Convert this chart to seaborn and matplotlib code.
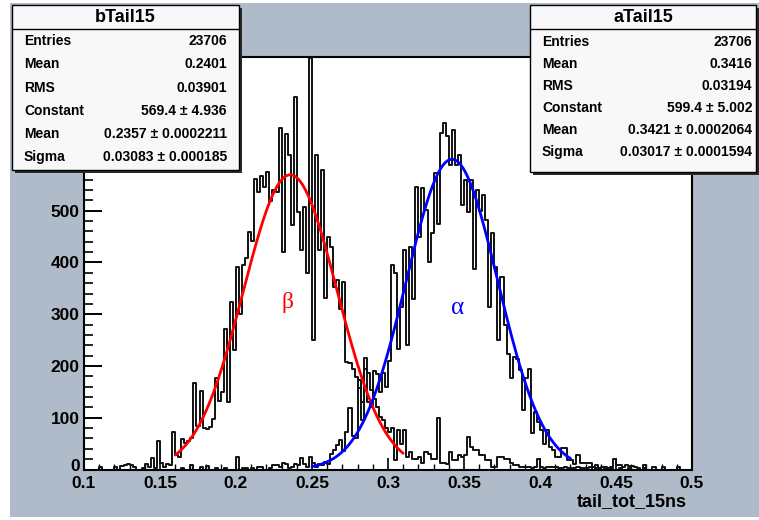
import numpy as np
import pandas as pd
import matplotlib
matplotlib.use("Agg")
import matplotlib.pyplot as plt
import seaborn as sns
from matplotlib.patches import Rectangle
from matplotlib.lines import Line2D
from matplotlib.transforms import ScaledTranslation
from matplotlib.ticker import MultipleLocator, FixedLocator

# ---------------- data ----------------
bin_lo, bin_hi, n_bins = 0.1, 0.5, 200

# bTail15 bin contents (bin width 0.002, from 0.1 to 0.5)
beta_counts = [
    0, 0, 0, 0, 0, 5, 0, 0, 0, 0,
    4, 0, 7, 8, 10, 8, 5, 0, 0, 3,
    10, 5, 23, 3, 55, 12, 5, 10, 8, 73,
    28, 25, 58, 52, 55, 60, 168, 85, 152, 80,
    79, 83, 97, 177, 133, 150, 272, 131, 323, 230,
    391, 300, 395, 408, 458, 442, 561, 536, 568, 545,
    575, 518, 540, 537, 659, 421, 649, 607, 472, 720,
    498, 424, 508, 379, 795, 250, 607, 424, 579, 331,
    450, 430, 353, 366, 311, 363, 208, 205, 195, 179,
    157, 131, 195, 186, 153, 137, 121, 102, 96, 80,
    73, 80, 18, 76, 50, 76, 24, 34, 21, 21,
    24, 12, 34, 30, 21, 21, 99, 12, 12, 10,
    34, 18, 18, 28, 25, 28, 62, 44, 37, 37,
    28, 28, 18, 18, 5, 5, 24, 24, 21, 21,
    12, 9, 9, 5, 5, 5, 5, 3, 5, 21,
    5, 3, 5, 5, 5, 5, 3, 2, 5, 3,
    3, 2, 5, 3, 2, 2, 5, 0, 3, 2,
    0, 3, 0, 2, 0, 0, 3, 0, 0, 2,
    0, 0, 0, 0, 3, 0, 0, 0, 0, 0,
    0, 0, 0, 0, 0, 0, 0, 0, 0, 0,
]

# aTail15 bin contents
alpha_counts = [
    0, 0, 0, 0, 0, 0, 0, 0, 0, 0,
    0, 0, 0, 0, 0, 0, 0, 0, 0, 0,
    0, 0, 0, 0, 0, 0, 0, 0, 0, 0,
    0, 0, 3, 0, 0, 8, 0, 0, 5, 0,
    6, 0, 0, 3, 0, 0, 2, 0, 0, 0,
    24, 0, 3, 3, 0, 2, 0, 5, 5, 0,
    0, 3, 8, 8, 5, 12, 10, 3, 5, 10,
    8, 22, 10, 5, 25, 12, 5, 10, 8, 15,
    10, 30, 37, 47, 57, 35, 72, 118, 65, 60,
    173, 95, 215, 130, 120, 190, 185, 150, 186, 160,
    210, 395, 380, 232, 314, 424, 240, 430, 330, 546,
    450, 543, 501, 401, 456, 572, 475, 650, 670, 645,
    588, 655, 588, 607, 511, 559, 498, 559, 388, 540,
    500, 530, 482, 314, 456, 391, 250, 372, 279, 224,
    176, 218, 214, 192, 115, 176, 195, 70, 112, 92,
    76, 50, 76, 44, 37, 25, 25, 41, 41, 18,
    18, 10, 28, 12, 12, 12, 12, 5, 8, 3,
    5, 5, 3, 5, 21, 8, 8, 5, 8, 6,
    6, 5, 3, 0, 8, 0, 0, 5, 0, 0,
    5, 0, 0, 0, 0, 5, 0, 0, 0, 0,
]

# Gaussian fit results: (Constant, Mean, Sigma) and fit ranges
beta_fit = (569.4, 0.2357, 0.03083)
alpha_fit = (599.4, 0.3421, 0.03017)
beta_fit_range = (0.16, 0.31)
alpha_fit_range = (0.25, 0.42)

x_ticks = [0.1, 0.15, 0.2, 0.25, 0.3, 0.35, 0.4, 0.45, 0.5]
x_tick_labels = ["0.1", "0.15", "0.2", "0.25", "0.3", "0.35", "0.4", "0.45", "0.5"]
y_ticks = [0, 100, 200, 300, 400, 500, 600, 700]
# 600 and 700 sit under the stat box, so they carry no label
y_tick_labels = ["0", "100", "200", "300", "400", "500", "", ""]

beta_stats = [("Entries", "23706"), ("Mean", "0.2401"), ("RMS", "0.03901"),
              ("Constant", "569.4 \u00b1 4.936"), ("Mean", "0.2357 \u00b1 0.0002211"),
              ("Sigma", "0.03083 \u00b1 0.000185")]
alpha_stats = [("Entries", "23706"), ("Mean", "0.3416"), ("RMS", "0.03194"),
               ("Constant", "599.4 \u00b1 5.002"), ("Mean", "0.3421 \u00b1 0.0002064"),
               ("Sigma", "0.03017 \u00b1 0.0001594")]

# ---------------- figure ----------------
sns.set_theme(style="ticks")
plt.rcParams['font.family'] = ['Liberation Sans', 'DejaVu Sans']

W, H = 759, 520
fig = plt.figure(figsize=(W / 100, H / 100), dpi=100)
fig.patch.set_facecolor("white")

def fx(x):
    return x / W

def fy(y):
    return 1 - y / H

# canvas background
fig.add_artist(Rectangle((fx(10), fy(517)), fx(759 - 10), (517 - 3) / H,
                         transform=fig.transFigure, facecolor="#afbbc8",
                         edgecolor="none", zorder=-10))

ax = fig.add_axes([fx(84), fy(469.5), fx(692 - 84), (469.5 - 57) / H])
ax.set_facecolor("white")

width = (bin_hi - bin_lo) / n_bins
centers = bin_lo + width * (np.arange(n_bins) + 0.5)
df_beta = pd.DataFrame({"x": centers, "w": np.asarray(beta_counts, float)})
df_alpha = pd.DataFrame({"x": centers, "w": np.asarray(alpha_counts, float)})

for df in (df_beta, df_alpha):
    sns.histplot(data=df, x="x", weights="w", bins=n_bins, binrange=(bin_lo, bin_hi),
                 element="step", fill=False, color="#111111", linewidth=1.4, ax=ax)

def gaus(params, lo, hi):
    c, m, s = params
    xs = np.linspace(lo, hi, 300)
    return xs, c * np.exp(-0.5 * ((xs - m) / s) ** 2)

bx, by = gaus(beta_fit, *beta_fit_range)
axx, ayy = gaus(alpha_fit, *alpha_fit_range)
sns.lineplot(x=bx, y=by, color="#ff0000", linewidth=2, sort=False, estimator=None, ax=ax)
sns.lineplot(x=axx, y=ayy, color="#0000ff", linewidth=2, sort=False, estimator=None, ax=ax)

ax.text(0.2342, 323, "\u03b2", color="#ff0000", fontsize=17, family="Liberation Serif",
        ha="center", va="center")
ax.text(0.346, 312, "\u03b1", color="#0000ff", fontsize=18, family="Liberation Serif",
        ha="center", va="center")

ax.set_xlim(bin_lo, bin_hi)
ax.set_ylim(0, 797)
ax.set_xlabel("")
ax.set_ylabel("")
ax.xaxis.set_major_locator(FixedLocator(x_ticks))
ax.set_xticklabels(x_tick_labels)
ax.xaxis.set_minor_locator(MultipleLocator(0.01))
ax.yaxis.set_major_locator(FixedLocator(y_ticks))
ax.set_yticklabels(y_tick_labels)
ax.yaxis.set_minor_locator(MultipleLocator(20))
ax.tick_params(axis="both", which="both", direction="in", top=False, right=False,
               colors="black", labelcolor="black")
ax.tick_params(axis="y", which="major", length=13, width=1.4, pad=3, labelsize=12.5)
ax.tick_params(axis="y", which="minor", length=6.5, width=1.2)
ax.tick_params(axis="x", which="major", length=8.6, width=1.2, pad=5, labelsize=12.5)
ax.tick_params(axis="x", which="minor", length=4.3, width=1.0)
for lbl in ax.get_xticklabels() + ax.get_yticklabels():
    lbl.set_fontweight("bold")
# lift the y "0" a touch so it clears the first x label
zero_lbl = ax.get_yticklabels()[0]
zero_lbl.set_transform(zero_lbl.get_transform() +
                       ScaledTranslation(0, 3 / 72, fig.dpi_scale_trans))
for side in ("left", "bottom", "right", "top"):
    ax.spines[side].set_color("black")
    ax.spines[side].set_linewidth(1.5)

fig.text(fx(687), fy(502), "tail_tot_15ns", ha="right", va="center",
         fontsize=13, fontweight="bold", color="black")

def stat_box(x0, y0, x1, y1, sep, title, rows, row_ys, lab_x, val_x):
    fig.add_artist(Rectangle((fx(x0 + 3), fy(y1 + 3)), fx(x1 - x0), (y1 - y0) / H,
                             transform=fig.transFigure, facecolor="#2a2a2a",
                             edgecolor="none", zorder=5))
    fig.add_artist(Rectangle((fx(x0), fy(y1)), fx(x1 - x0), (y1 - y0) / H,
                             transform=fig.transFigure, facecolor="#f8f8f8",
                             edgecolor="black", linewidth=1.0, zorder=6))
    fig.add_artist(Line2D([fx(x0), fx(x1)], [fy(sep), fy(sep)], transform=fig.transFigure,
                          color="black", linewidth=1.0, zorder=7))
    fig.text(fx((x0 + x1) / 2), fy((y0 + sep) / 2 + 0.5), title, ha="center", va="center",
             fontsize=13, fontweight="bold", color="black", zorder=8)
    for (lab, val), ry in zip(rows, row_ys):
        fig.text(fx(lab_x), fy(ry), lab, ha="left", va="center", fontsize=10,
                 fontweight="bold", color="black", zorder=8)
        fig.text(fx(val_x), fy(ry), val, ha="right", va="center", fontsize=10,
                 fontweight="bold", color="black", zorder=8)

stat_box(12, 5, 239, 170, 29, "bTail15", beta_stats,
         [41, 64, 88, 111, 134, 157], 24, 227)
stat_box(530, 5, 756, 172, 29, "aTail15", alpha_stats,
         [42, 64, 86, 108, 130, 152], 542, 752)

fig.savefig("out.png", dpi=100, facecolor=fig.get_facecolor())
